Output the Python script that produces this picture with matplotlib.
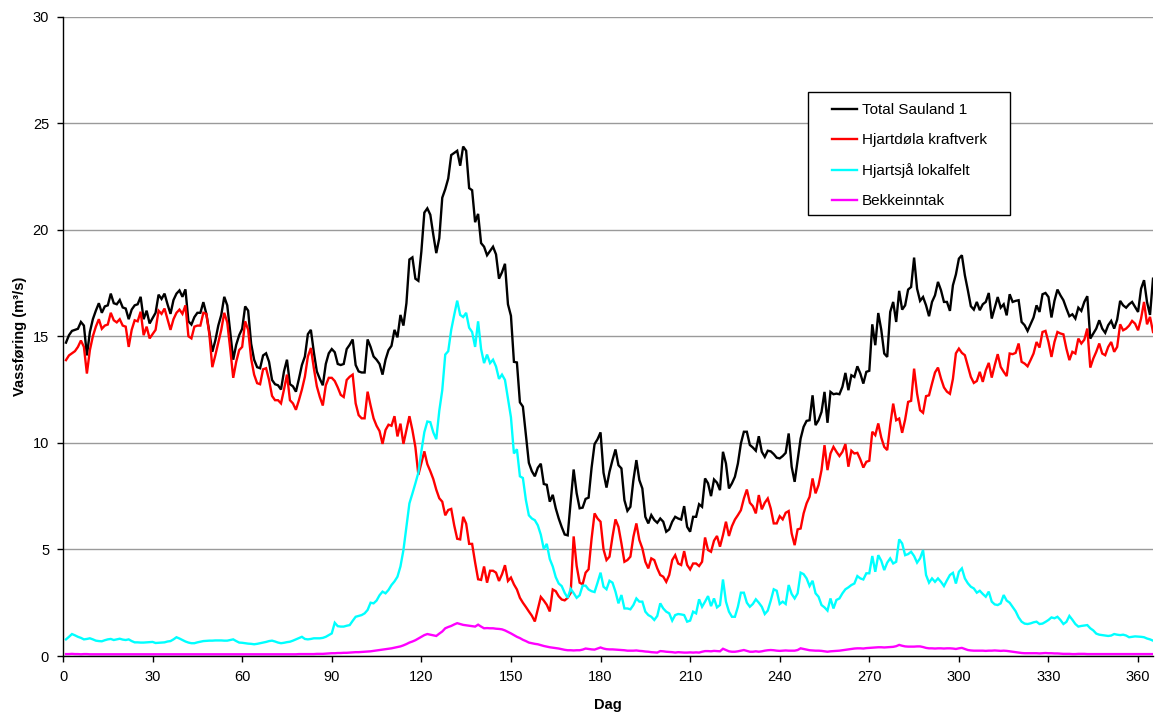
import matplotlib
matplotlib.use("Agg")
import matplotlib.pyplot as plt
from matplotlib.patches import Rectangle

plt.rcParams['font.family'] = ['Liberation Sans', 'DejaVu Sans']

days = list(range(1, 366))

total = [
    14.7, 15.05, 15.25, 15.3, 15.35, 15.67, 15.5, 14.1, 15.2, 15.8,
    16.2, 16.55, 16.1, 16.4, 16.45, 17.0, 16.55, 16.5, 16.7, 16.35,
    16.3, 15.8, 16.25, 16.45, 16.5, 16.85, 15.8, 16.2, 15.6, 15.85,
    16.1, 16.95, 16.75, 17.0, 16.5, 16.05, 16.7, 17.0, 17.15, 16.85,
    17.2, 15.7, 15.55, 15.9, 16.1, 16.1, 16.6, 16.05, 15.2, 14.27,
    14.8, 15.5, 16.0, 16.85, 16.45, 15.2, 13.9, 14.6, 15.05, 15.35,
    16.4, 16.2, 14.65, 13.9, 13.55, 13.5, 14.1, 14.2, 13.8, 12.95,
    12.75, 12.7, 12.5, 13.35, 13.9, 12.75, 12.65, 12.4, 13.0, 13.65,
    14.05, 15.1, 15.3, 14.25, 13.35, 13.0, 12.7, 13.7, 14.2, 14.4,
    14.25, 13.7, 13.65, 13.7, 14.4, 14.6, 14.85, 13.65, 13.35, 13.3,
    13.3, 14.85, 14.5, 14.05, 13.9, 13.7, 13.2, 13.9, 14.35, 14.55,
    15.3, 14.95, 16.0, 15.5, 16.55, 18.6, 18.7, 17.7, 17.6, 18.97,
    20.8, 21.0, 20.7, 19.76, 18.9, 19.6, 21.5, 21.9, 22.4, 23.5,
    23.6, 23.7, 23.0, 23.9, 23.7, 21.95, 21.85, 20.35, 20.74, 19.37,
    19.2, 18.8, 19.0, 19.2, 18.84, 17.7, 18.0, 18.4, 16.5, 15.96,
    13.8, 13.77, 11.9, 11.7, 10.4, 9.06, 8.67, 8.43, 8.83, 9.02,
    8.07, 8.03, 7.24, 7.56, 6.93, 6.45, 6.05, 5.7, 5.66, 7.24,
    8.75, 7.64, 6.93, 6.96, 7.37, 7.43, 8.83, 9.94, 10.17, 10.49,
    8.6, 7.9, 8.64, 9.19, 9.69, 8.95, 8.8, 7.31, 6.81, 7.0,
    8.25, 9.19, 8.25, 7.86, 6.53, 6.22, 6.61, 6.38, 6.25, 6.45,
    6.3, 5.83, 5.94, 6.3, 6.53, 6.45, 6.4, 7.03, 6.06, 5.83,
    6.53, 6.53, 7.12, 7.0, 8.33, 8.1, 7.5, 8.28, 8.13, 7.78,
    9.58, 9.03, 7.86, 8.1, 8.41, 9.03, 9.97, 10.52, 10.52, 9.9,
    9.78, 9.63, 10.31, 9.58, 9.34, 9.63, 9.6, 9.47, 9.3, 9.27,
    9.38, 9.53, 10.44, 8.88, 8.17, 9.19, 10.2, 10.75, 11.03, 11.06,
    12.23, 10.83, 11.06, 11.45, 12.39, 10.94, 12.39, 12.28, 12.31, 12.28,
    12.63, 13.28, 12.47, 13.17, 13.09, 13.59, 13.25, 12.78, 13.33, 13.38,
    15.56, 14.58, 16.09, 15.31, 14.19, 14.03, 16.14, 16.61, 15.67, 17.13,
    16.25, 16.45, 17.19, 17.31, 18.69, 17.23, 16.66, 16.84, 16.45, 15.94,
    16.61, 16.92, 17.55, 17.16, 16.61, 16.61, 16.19, 17.39, 17.9, 18.64,
    18.8, 17.86, 17.16, 16.41, 16.25, 16.61, 16.22, 16.5, 16.61, 17.03,
    15.83, 16.34, 16.84, 16.34, 16.5, 15.98, 16.97, 16.61, 16.66, 16.69,
    15.67, 15.52, 15.25, 15.56, 15.88, 16.45, 16.14, 16.97, 17.03, 16.84,
    15.88, 16.66, 17.19, 16.92, 16.69, 16.3, 15.94, 16.03, 15.83, 16.34,
    16.19, 16.61, 16.88, 14.89, 15.13, 15.36, 15.75, 15.36, 15.16, 15.52,
    15.72, 15.36, 15.78, 16.66, 16.45, 16.34, 16.5, 16.61, 16.38, 16.14,
    17.23, 17.63, 16.6, 16.0, 17.7,
]

hjartdola = [
    13.88, 14.1, 14.2, 14.3, 14.5, 14.8, 14.5, 13.25, 14.35, 15.0,
    15.45, 15.8, 15.35, 15.5, 15.55, 16.1, 15.75, 15.65, 15.8, 15.5,
    15.45, 14.5, 15.3, 15.75, 15.7, 16.15, 15.05, 15.45, 14.9, 15.1,
    15.3, 16.2, 16.05, 16.3, 15.8, 15.3, 15.8, 16.1, 16.25, 16.05,
    16.45, 15.0, 14.9, 15.45, 15.5, 15.5, 16.1, 16.05, 15.1, 13.55,
    14.1, 14.7, 15.3, 16.1, 15.65, 14.4, 13.05, 13.8, 14.35, 14.5,
    15.7, 15.3, 13.95, 13.2, 12.8, 12.75, 13.45, 13.5, 12.95, 12.2,
    12.0, 12.0, 11.85, 12.5, 13.2, 12.0, 11.85, 11.55, 12.0, 12.5,
    13.1, 14.05, 14.45, 13.5, 12.65, 12.15, 11.75, 12.7, 13.05, 13.05,
    12.9, 12.6, 12.25, 12.15, 12.95, 13.1, 13.2, 11.85, 11.3, 11.15,
    11.15, 12.4, 11.75, 11.15, 10.8, 10.55, 9.95, 10.6, 10.85, 10.8,
    11.25, 10.3, 10.9, 9.95, 10.6, 11.25, 10.6, 9.8, 8.5, 9.06,
    9.6, 9.0, 8.67, 8.3, 7.8, 7.4, 7.24, 6.6, 6.85, 6.9,
    6.13, 5.5, 5.47, 6.53, 6.21, 5.26, 5.26, 4.39, 3.6, 3.57,
    4.2, 3.44, 4.0, 4.0, 3.91, 3.52, 3.83, 4.26, 3.52, 3.68,
    3.36, 3.12, 2.73, 2.5, 2.3, 2.09, 1.89, 1.62, 2.2, 2.77,
    2.6, 2.4, 2.09, 3.12, 3.04, 2.8, 2.65, 2.61, 2.73, 2.96,
    5.61, 4.23, 3.44, 3.36, 3.91, 4.07, 5.5, 6.69, 6.45, 6.3,
    5.0, 4.5, 4.66, 5.59, 6.41, 6.06, 5.28, 4.42, 4.5, 4.66,
    5.59, 6.22, 5.44, 5.05, 4.42, 4.11, 4.58, 4.5, 4.11, 3.8,
    3.72, 3.48, 3.8, 4.5, 4.73, 4.34, 4.27, 4.92, 4.27, 4.06,
    4.34, 4.34, 4.22, 4.42, 5.56, 4.97, 4.89, 5.41, 5.63, 5.13,
    5.67, 6.3, 5.63, 6.09, 6.4, 6.61, 6.84, 7.39, 7.81, 7.19,
    7.03, 6.69, 7.55, 6.88, 7.19, 7.39, 6.92, 6.22, 6.22, 6.56,
    6.41, 6.72, 6.8, 5.75, 5.2, 5.94, 5.98, 6.69, 7.16, 7.47,
    8.33, 7.63, 8.02, 8.72, 9.89, 8.72, 9.5, 9.81, 9.58, 9.38,
    9.58, 9.94, 8.88, 9.63, 9.5, 9.53, 9.22, 8.84, 9.11, 9.16,
    10.52, 10.36, 10.91, 10.25, 9.81, 9.66, 10.83, 11.84, 11.06, 11.14,
    10.47, 11.09, 11.92, 11.97, 13.48, 12.31, 11.53, 11.41, 12.19, 12.23,
    12.78, 13.3, 13.53, 13.02, 12.6, 12.4, 12.3, 13.0, 14.2, 14.42,
    14.22, 14.11, 13.6, 13.09, 12.81, 12.9, 13.33, 12.86, 13.4, 13.75,
    13.06, 13.64, 14.16, 13.56, 13.33, 13.13, 14.19, 14.16, 14.22, 14.66,
    13.8, 13.72, 13.59, 13.88, 14.19, 14.73, 14.47, 15.2, 15.25, 14.73,
    14.03, 14.73, 15.2, 15.13, 15.09, 14.42, 13.88, 14.27, 14.19, 14.89,
    14.66, 14.84, 15.36, 13.53, 13.95, 14.27, 14.66, 14.19, 14.11, 14.5,
    14.73, 14.27, 14.5, 15.56, 15.28, 15.36, 15.5, 15.72, 15.59, 15.28,
    15.83, 16.61, 15.56, 15.91, 15.2,
]

hjartsja = [
    0.78, 0.9, 1.03, 0.97, 0.9, 0.85, 0.78, 0.8, 0.83, 0.78,
    0.72, 0.7, 0.69, 0.74, 0.78, 0.8, 0.75, 0.78, 0.81, 0.77,
    0.75, 0.78, 0.7, 0.64, 0.64, 0.63, 0.63, 0.64, 0.65, 0.66,
    0.61, 0.62, 0.63, 0.64, 0.68, 0.7, 0.78, 0.88, 0.82, 0.75,
    0.68, 0.63, 0.6, 0.6, 0.64, 0.67, 0.7, 0.71, 0.72, 0.72,
    0.73, 0.73, 0.73, 0.72, 0.72, 0.75, 0.78, 0.7, 0.63, 0.62,
    0.6, 0.58, 0.57, 0.55, 0.57, 0.6, 0.63, 0.66, 0.7, 0.72,
    0.68, 0.63, 0.6, 0.62, 0.65, 0.67, 0.72, 0.78, 0.84, 0.9,
    0.8, 0.78, 0.8, 0.83, 0.83, 0.83, 0.85, 0.9, 0.98, 1.06,
    1.56, 1.4, 1.38, 1.38, 1.42, 1.45, 1.65, 1.84, 1.88, 1.92,
    2.0, 2.16, 2.5, 2.47, 2.6, 2.85, 3.02, 2.94, 3.1, 3.33,
    3.5, 3.72, 4.2, 4.97, 6.06, 7.16, 7.62, 8.1, 8.6, 9.6,
    10.5, 11.0, 10.97, 10.49, 10.17, 11.5, 12.47, 14.14, 14.3, 15.3,
    16.0, 16.67, 16.0, 15.9, 16.1, 15.4, 15.2, 14.5, 15.7, 14.4,
    13.74, 14.14, 13.74, 13.9, 13.58, 13.0, 13.2, 12.95, 12.07, 11.2,
    9.5, 9.7, 8.43, 8.35, 7.32, 6.6, 6.45, 6.37, 6.13, 5.69,
    5.02, 5.26, 4.55, 4.2, 3.7, 3.4, 3.28, 2.96, 2.73, 3.15,
    2.95, 2.73, 2.85, 3.3, 3.3, 3.12, 3.04, 3.0, 3.44, 3.91,
    3.25, 3.13, 3.53, 3.44, 3.02, 2.47, 2.86, 2.23, 2.23, 2.19,
    2.39, 2.7, 2.55, 2.55, 2.08, 1.92, 1.84, 1.69, 1.88, 2.47,
    2.23, 2.08, 2.0, 1.66, 1.92, 1.97, 1.95, 1.92, 1.61, 1.66,
    2.08, 2.0, 2.66, 2.31, 2.55, 2.81, 2.34, 2.7, 2.28, 2.39,
    3.59, 2.55, 2.08, 1.84, 1.84, 2.31, 2.97, 2.97, 2.5, 2.31,
    2.44, 2.66, 2.5, 2.31, 1.97, 2.13, 2.6, 3.13, 3.06, 2.44,
    2.55, 2.44, 3.33, 2.91, 2.7, 2.94, 3.91, 3.84, 3.64, 3.28,
    3.53, 2.94, 2.78, 2.39, 2.28, 2.13, 2.7, 2.23, 2.63, 2.7,
    2.94, 3.13, 3.22, 3.33, 3.4, 3.75, 3.64, 3.59, 3.88, 3.88,
    4.69, 3.95, 4.73, 4.47, 4.03, 4.38, 4.58, 4.34, 4.42, 5.47,
    5.28, 4.73, 4.78, 4.89, 4.69, 4.38, 4.58, 4.97, 3.8, 3.44,
    3.64, 3.48, 3.64, 3.48, 3.28, 3.55, 3.8, 3.9, 3.4, 3.95,
    4.11, 3.64, 3.41, 3.25, 3.17, 2.97, 3.06, 2.91, 2.78, 3.02,
    2.55, 2.42, 2.39, 2.47, 2.86, 2.6, 2.5, 2.3, 2.1, 1.81,
    1.61, 1.52, 1.5, 1.53, 1.58, 1.61, 1.5, 1.52, 1.6, 1.69,
    1.81, 1.77, 1.84, 1.69, 1.5, 1.6, 1.88, 1.7, 1.5, 1.38,
    1.41, 1.43, 1.45, 1.3, 1.2, 1.05, 1.0, 0.98, 0.96, 0.94,
    0.96, 1.03, 1.0, 0.98, 1.0, 0.96, 0.88, 0.9, 0.92, 0.91,
    0.9, 0.88, 0.82, 0.78, 0.72,
]

bekkeinntak = [
    0.09, 0.09, 0.1, 0.09, 0.09, 0.08, 0.09, 0.09, 0.08, 0.08,
    0.08, 0.08, 0.08, 0.08, 0.08, 0.08, 0.08, 0.08, 0.08, 0.08,
    0.08, 0.08, 0.08, 0.08, 0.08, 0.08, 0.08, 0.08, 0.08, 0.08,
    0.08, 0.08, 0.08, 0.08, 0.08, 0.08, 0.08, 0.08, 0.08, 0.08,
    0.08, 0.08, 0.08, 0.08, 0.08, 0.08, 0.08, 0.08, 0.08, 0.08,
    0.08, 0.08, 0.08, 0.08, 0.08, 0.08, 0.08, 0.08, 0.08, 0.08,
    0.08, 0.08, 0.08, 0.08, 0.08, 0.08, 0.08, 0.08, 0.08, 0.08,
    0.08, 0.08, 0.08, 0.08, 0.08, 0.08, 0.08, 0.08, 0.09, 0.09,
    0.09, 0.09, 0.09, 0.09, 0.1, 0.1, 0.1, 0.11, 0.12, 0.13,
    0.13, 0.14, 0.14, 0.15, 0.15, 0.16, 0.17, 0.18, 0.18, 0.19,
    0.2, 0.21, 0.22, 0.24, 0.26, 0.28, 0.3, 0.32, 0.34, 0.36,
    0.39, 0.42, 0.45, 0.5, 0.56, 0.63, 0.68, 0.74, 0.82, 0.9,
    0.98, 1.03, 1.0, 0.97, 0.94, 1.05, 1.15, 1.3, 1.36, 1.41,
    1.48, 1.54, 1.5, 1.46, 1.44, 1.42, 1.4, 1.38, 1.47, 1.38,
    1.3, 1.31, 1.3, 1.3, 1.28, 1.27, 1.25, 1.2, 1.13, 1.06,
    0.98, 0.9, 0.84, 0.76, 0.7, 0.63, 0.6, 0.57, 0.55, 0.51,
    0.47, 0.44, 0.41, 0.39, 0.37, 0.35, 0.32, 0.29, 0.27, 0.27,
    0.26, 0.27, 0.27, 0.3, 0.35, 0.33, 0.31, 0.3, 0.35, 0.4,
    0.35, 0.32, 0.31, 0.31, 0.3, 0.29, 0.28, 0.27, 0.25, 0.25,
    0.25, 0.26, 0.24, 0.23, 0.21, 0.2, 0.18, 0.17, 0.16, 0.23,
    0.22, 0.2, 0.19, 0.18, 0.16, 0.18, 0.17, 0.16, 0.16, 0.17,
    0.16, 0.17, 0.16, 0.2, 0.23, 0.23, 0.22, 0.24, 0.23, 0.22,
    0.34, 0.28, 0.22, 0.2, 0.2, 0.22, 0.25, 0.28, 0.24, 0.2,
    0.2, 0.22, 0.2, 0.22, 0.25, 0.27, 0.28, 0.27, 0.25, 0.24,
    0.25, 0.26, 0.25, 0.25, 0.25, 0.28, 0.36, 0.33, 0.3, 0.27,
    0.26, 0.25, 0.25, 0.24, 0.22, 0.2, 0.22, 0.23, 0.24, 0.25,
    0.27, 0.29, 0.31, 0.33, 0.35, 0.36, 0.36, 0.35, 0.37, 0.38,
    0.39, 0.4, 0.41, 0.41, 0.4, 0.41, 0.42, 0.43, 0.46, 0.52,
    0.48, 0.45, 0.44, 0.44, 0.44, 0.45, 0.45, 0.42, 0.38, 0.36,
    0.36, 0.35, 0.36, 0.36, 0.35, 0.36, 0.36, 0.35, 0.33, 0.36,
    0.38, 0.33, 0.28, 0.26, 0.25, 0.25, 0.25, 0.25, 0.24, 0.25,
    0.25, 0.26, 0.25, 0.24, 0.25, 0.24, 0.22, 0.2, 0.18, 0.16,
    0.14, 0.13, 0.13, 0.13, 0.13, 0.13, 0.12, 0.13, 0.14, 0.13,
    0.13, 0.12, 0.12, 0.11, 0.1, 0.1, 0.1, 0.09, 0.09, 0.1,
    0.1, 0.1, 0.09, 0.09, 0.09, 0.09, 0.09, 0.09, 0.09, 0.09,
    0.09, 0.09, 0.09, 0.09, 0.09, 0.09, 0.09, 0.09, 0.09, 0.09,
    0.09, 0.09, 0.09, 0.09, 0.09,
]

series_labels = ["Total Sauland 1", "Hjartdøla kraftverk", "Hjartsjå lokalfelt", "Bekkeinntak"]
series_colors = ["#000000", "#ff0000", "#00ffff", "#ff00ff"]
x_ticks = list(range(0, 361, 30))
y_ticks = list(range(0, 31, 5))

W, H = 1155, 713
fig = plt.figure(figsize=(W / 100, H / 100), dpi=100)
ax = fig.add_axes([63 / W, 1 - 656 / H, (1153 - 63) / W, (656 - 16.5) / H])

for vals, lab, col in zip([total, hjartdola, hjartsja, bekkeinntak], series_labels, series_colors):
    ax.plot(days, vals, color=col, lw=1.7, label=lab, solid_joinstyle='miter')

ax.set_xlim(0, 365)
ax.set_ylim(0, 30)
ax.set_xticks(x_ticks)
ax.set_yticks(y_ticks)
ax.yaxis.grid(True, color='#9a9a9a', lw=1.0)
ax.set_axisbelow(True)
for s in ['top', 'right']:
    ax.spines[s].set_visible(False)
for s in ['left', 'bottom']:
    ax.spines[s].set_linewidth(1.0)
    ax.spines[s].set_color('black')
ax.tick_params(axis='both', direction='out', length=4, width=1, labelsize=10.5, pad=6)

ax.set_xlabel("Dag", fontsize=10.5, fontweight='bold', labelpad=10)
ax.set_ylabel("Vassføring (m³/s)", fontsize=10.5, fontweight='bold', labelpad=4)

# legend frame (figure pixel coordinates), drawn inside the axes so the legend sits on top
frame = Rectangle((808 / W, 1 - 215 / H), (1010 - 808) / W, (215 - 92) / H,
                  transform=fig.transFigure, facecolor='white', edgecolor='black',
                  lw=1.0, zorder=5, clip_on=False)
ax.add_patch(frame)

leg = ax.legend(loc='upper left', bbox_to_anchor=(832 / W, 1 - 103 / H),
                bbox_transform=fig.transFigure, fontsize=11,
                frameon=False, handlelength=1.65, handletextpad=0.3,
                labelspacing=1.05, borderpad=0, borderaxespad=0)
leg.set_zorder(6)

fig.savefig("out.png", dpi=100)
